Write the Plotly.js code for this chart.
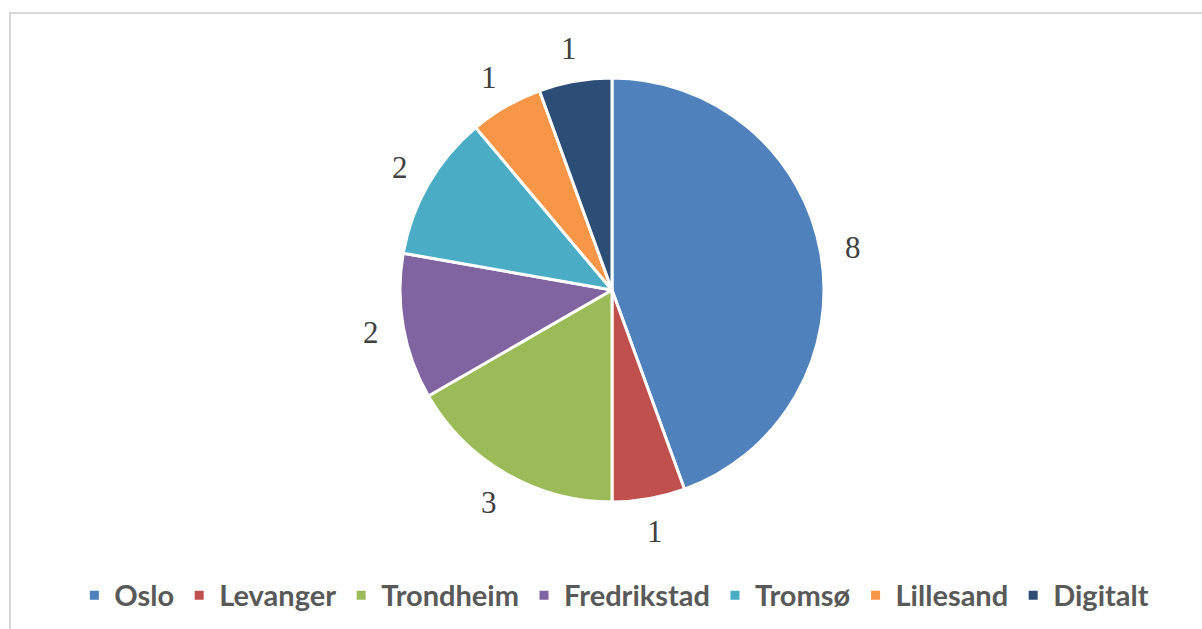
<!DOCTYPE html>
<html>
<head>
<meta charset="utf-8">
<script src="https://cdn.plot.ly/plotly-3.0.1.min.js"></script>
<style>
  html, body { margin: 0; padding: 0; background: #ffffff; overflow: hidden; }
  #frame { position: absolute; left: 9px; top: 12px; width: 1300px; height: 700px;
           border: 2px solid #d9d9d9; box-sizing: border-box; }
  #chart { position: absolute; left: 0; top: 0; width: 1202px; height: 629px; }
</style>
</head>
<body>
<div id="frame"></div>
<div id="chart"></div>
<script>
const categories = ["Oslo", "Levanger", "Trondheim", "Fredrikstad", "Tromsø", "Lillesand", "Digitalt"];
const values = [8, 1, 3, 2, 2, 1, 1];
const colors = ["#4F81BD", "#C0504D", "#9BBB59", "#8064A2", "#4BACC6", "#F79646", "#2C4D75"];

const W = 1202, H = 629;
const margin = { l: 22, r: 0, t: 78, b: 127 };
const plotW = W - margin.l - margin.r;
const plotH = H - margin.t - margin.b;
const radiusPx = Math.min(plotW, plotH) / 2;
const labelOffsetPx = 33; // distance of data-label centre beyond the pie edge

const trace = {
  type: "pie",
  labels: categories,
  values: values,
  sort: false,
  direction: "clockwise",
  rotation: 0,
  marker: { colors: colors, line: { color: "#ffffff", width: 3 } },
  textinfo: "none",
  hoverinfo: "none",
  automargin: false
};

// data labels placed outside each slice, derived from the values
const total = values.reduce((a, b) => a + b, 0);
let cum = 0;
const annotations = values.map((v) => {
  const mid = (cum + v / 2) / total * 2 * Math.PI;
  cum += v;
  const r = radiusPx + labelOffsetPx;
  return {
    xref: "paper", yref: "paper",
    x: 0.5 + r * Math.sin(mid) / plotW,
    y: 0.5 + r * Math.cos(mid) / plotH,
    xanchor: "center", yanchor: "middle",
    text: String(v),
    showarrow: false,
    font: { family: "Liberation Serif", size: 31, color: "#404040" }
  };
});

const layout = {
  width: W,
  height: H,
  margin: margin,
  paper_bgcolor: "rgba(0,0,0,0)",
  plot_bgcolor: "rgba(0,0,0,0)",
  showlegend: true,
  annotations: annotations,
  legend: {
    orientation: "h",
    x: 0.502, xanchor: "center",
    y: -0.22, yanchor: "middle",
    font: { family: "Lato", size: 29, color: "#595959", weight: 700 },
    itemwidth: 30,
    traceorder: "normal"
  }
};

Plotly.newPlot("chart", [trace], layout, { staticPlot: true, displayModeBar: false });
</script>
</body>
</html>
